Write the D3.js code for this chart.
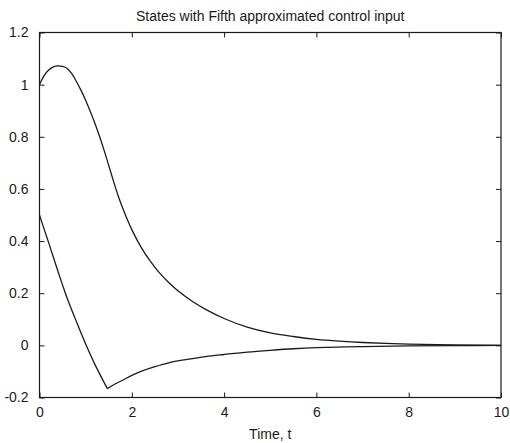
<!DOCTYPE html>
<html><head><meta charset="utf-8">
<script src="https://cdn.jsdelivr.net/npm/d3@7"></script>
<style>body{margin:0;background:#fff}svg{display:block}</style>
</head><body>
<svg id="c" width="510" height="443"></svg>
<script>
const title = "States with Fifth approximated control input";
const xLabel = "Time, t";
const xTicks = [0, 2, 4, 6, 8, 10];
const yTicks = [-0.2, 0, 0.2, 0.4, 0.6, 0.8, 1, 1.2];

const t1 = [0,0.1,0.2,0.3,0.4,0.5,0.6,0.7,0.8,0.9,1.0,1.1,1.2,1.3,1.4,1.5,1.6,1.7,1.8,1.9,2.0,2.2,2.4,2.6,2.8,3.0,3.3,3.6,4.0,4.5,5.0,5.5,6.0,6.5,7,8,9,10];
const x1 = [1.0,1.035,1.056,1.068,1.072,1.07,1.062,1.042,1.012,0.978,0.94,0.897,0.852,0.802,0.748,0.69,0.632,0.576,0.528,0.484,0.444,0.377,0.323,0.278,0.241,0.209,0.17,0.138,0.103,0.07,0.048,0.034,0.023,0.016,0.011,0.005,0.002,0];

const t2 = [0,0.1,0.2,0.3,0.4,0.5,0.6,0.8,1.0,1.2,1.47,1.6,1.8,2.0,2.2,2.5,2.8,3.2,3.6,4.0,4.5,5.0,5.5,6,7,8,9,10];
const x2 = [0.5,0.446,0.393,0.338,0.284,0.231,0.181,0.091,0.005,-0.073,-0.166,-0.152,-0.134,-0.115,-0.1,-0.082,-0.067,-0.054,-0.043,-0.035,-0.026,-0.019,-0.013,-0.009,-0.005,-0.002,-0.001,0];

(function(){
const svg = d3.select("#c");
const L = 39.5, R = 501, T = 32.5, B = 397.5;
const x = d3.scaleLinear().domain([0,10]).range([L,R]);
const y = d3.scaleLinear().domain([-0.2,1.2]).range([B,T]);
const ink = "#1a1a1a";
const font = "'Liberation Sans', Arial, sans-serif";
const fs = "14px";

svg.append("rect").attr("x",L).attr("y",T).attr("width",R-L).attr("height",B-T)
  .attr("fill","none").attr("stroke",ink).attr("stroke-width",1.2);

const tl = 5;
const gB = svg.append("g").attr("transform",`translate(0,${B})`)
  .call(d3.axisBottom(x).tickValues(xTicks).tickSizeInner(-tl).tickSizeOuter(0).tickPadding(10).tickFormat(d3.format("d")));
const gT = svg.append("g").attr("transform",`translate(0,${T})`)
  .call(d3.axisTop(x).tickValues(xTicks).tickSizeInner(-tl).tickSizeOuter(0).tickFormat(""));
const gL = svg.append("g").attr("transform",`translate(${L},0)`)
  .call(d3.axisLeft(y).tickValues(yTicks).tickSizeInner(-tl).tickSizeOuter(0).tickPadding(11).tickFormat(d => String(+d.toFixed(1))));
const gR = svg.append("g").attr("transform",`translate(${R},0)`)
  .call(d3.axisRight(y).tickValues(yTicks).tickSizeInner(-tl).tickSizeOuter(0).tickFormat(""));
[gB, gT, gL, gR].forEach(g => {
  g.select(".domain").remove();
  g.selectAll("line").attr("stroke", ink).attr("stroke-width", 1);
  g.selectAll("text").attr("fill", ink).style("font-family", font).style("font-size",fs);
});

const line = d3.line().x(d => x(d[0])).y(d => y(d[1])).curve(d3.curveCatmullRom.alpha(0.5));
const s1 = t1.map((t,i) => [t, x1[i]]);
const s2 = t2.map((t,i) => [t, x2[i]]);
const iMin = d3.minIndex(x2);
const g = svg.append("g").attr("fill","none").attr("stroke",ink).attr("stroke-width",1.3);
g.append("path").attr("d", line(s1));
g.append("path").attr("d", line(s2.slice(0, iMin+1)));
g.append("path").attr("d", line(s2.slice(iMin)));

svg.append("text").attr("x",(L+R)/2).attr("y",21).attr("text-anchor","middle")
  .attr("fill",ink).style("font-family",font).style("font-size",fs).text(title);
svg.append("text").attr("x",(L+R)/2).attr("y",439).attr("text-anchor","middle")
  .attr("fill",ink).style("font-family",font).style("font-size",fs).text(xLabel);
})();
</script>
</body></html>
